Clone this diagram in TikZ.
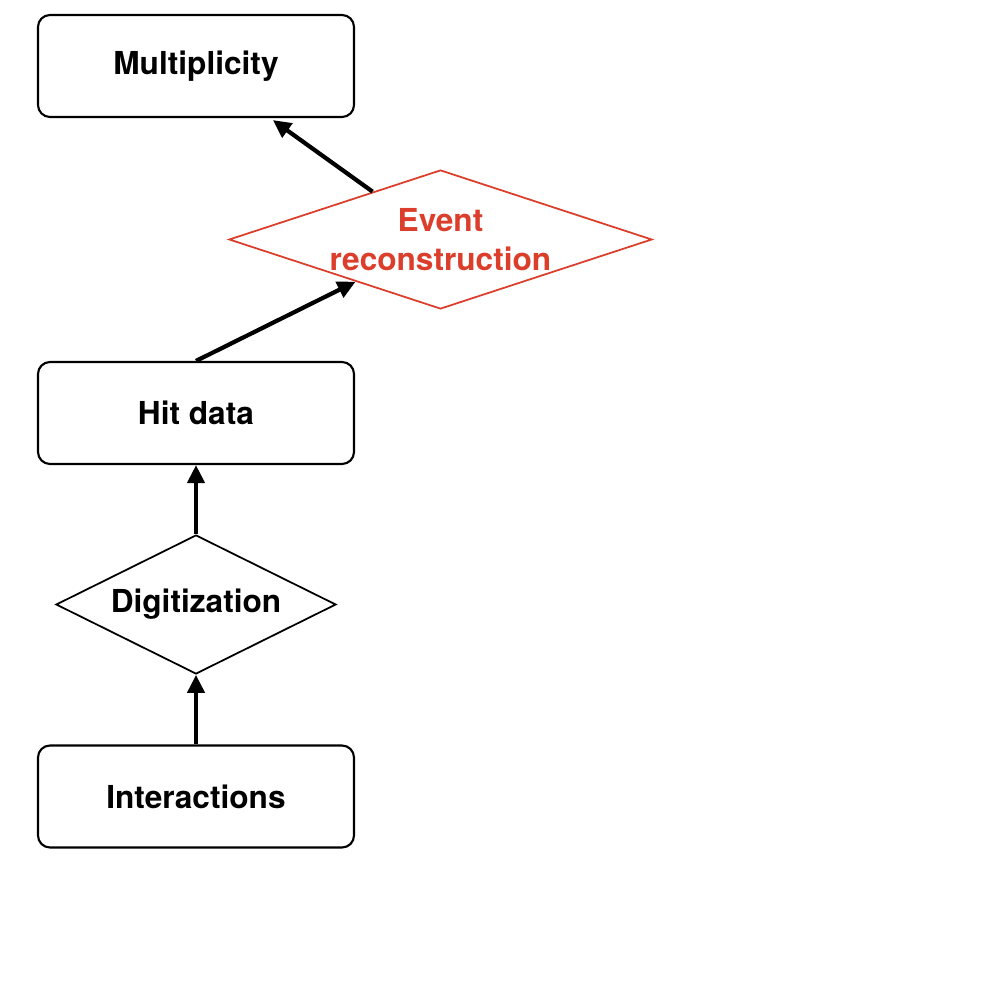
\documentclass[tikz,border=0pt]{standalone}
\usepackage{fontspec}
\setmainfont{TeX Gyre Heros}
\usepackage{xcolor}
\usepackage{tikz}
\usetikzlibrary{shapes.geometric,arrows.meta,calc}
\definecolor{evred}{RGB}{219,62,42}

\begin{document}
\begin{tikzpicture}[thick]
      \tikzstyle{stage} = [draw,line width=0.6pt,rounded corners=1.2mm,minimum width=3.16cm,minimum height=1.02cm,font=\bfseries\fontsize{9}{11}\selectfont]
      \tikzstyle{process} = [draw,shape=diamond,line width=0.5pt,inner sep=-1mm,align=center,font=\bfseries\fontsize{9}{11}\selectfont]
      \tikzstyle{flow} = [line width=1.2pt,-{Triangle[length=1.8mm,width=1.7mm]}]
      %
      \useasboundingbox (0,0) rectangle (10,-10);
      % Boxes.
      \node[stage] (mult) at (1.96,-0.66) {Multiplicity};
      \node[stage] (hit) at (1.96,-4.13) {Hit data};
      \node[stage] (inter) at (1.96,-7.965) {Interactions};

      % Diamonds.
      \node[process,aspect=2,minimum width=2.8cm,minimum height=1.39cm] (digi) at (1.96,-6.045) {Digitization};
      \node[process,aspect=3,draw=evred,text=evred,minimum width=4.23cm,minimum height=1.39cm] (event) at (4.405,-2.395) {Event\\reconstruction};

      % Draw arrows.
      \draw[flow] (inter.north) -- (digi.south);
      \draw[flow] (digi.north) -- (hit.south);
      \draw[flow] (hit.north) -- ($(event.west)!0.6!(event.south)$);
      \draw[flow,shorten >=1pt] ($(event.west)!0.68!(event.north)$) -- ([xshift=7.4mm]mult.south);
\end{tikzpicture}
\end{document}
